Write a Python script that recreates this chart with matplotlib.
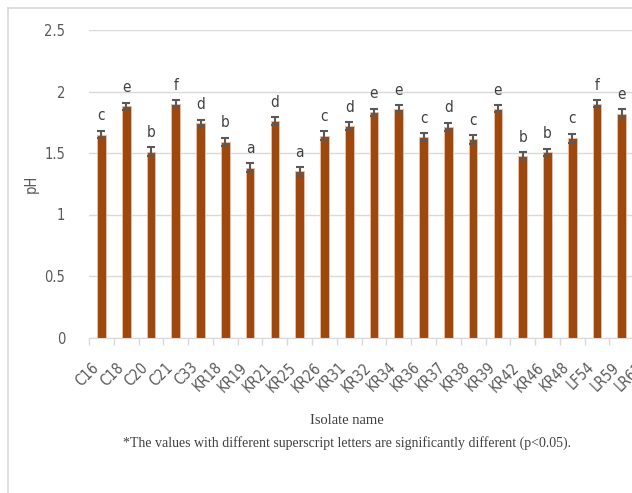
import matplotlib.pyplot as plt
from matplotlib.lines import Line2D
import numpy as np

isolates = ["C16", "C18", "C20", "C21", "C33", "KR18", "KR19", "KR21", "KR25",
            "KR26", "KR31", "KR32", "KR34", "KR36", "KR37", "KR38", "KR39",
            "KR42", "KR46", "KR48", "LF54", "LR59", "LR61"]
ph = [1.65, 1.88, 1.51, 1.90, 1.74, 1.59, 1.38, 1.76, 1.35, 1.64, 1.72,
      1.83, 1.86, 1.63, 1.71, 1.61, 1.86, 1.475, 1.505, 1.62, 1.90, 1.82, 1.80]
err = [0.03, 0.03, 0.035, 0.03, 0.03, 0.035, 0.035, 0.03, 0.035, 0.035, 0.03,
       0.03, 0.03, 0.03, 0.035, 0.035, 0.03, 0.03, 0.03, 0.035, 0.03, 0.035, 0.03]
# the last bar runs off the picture, its letter is not visible
letters = ["c", "e", "b", "f", "d", "b", "a", "d", "a", "c", "d", "e", "e",
           "c", "d", "c", "e", "b", "b", "c", "f", "e", ""]

sans = "DejaVu Sans"
serif = ["Liberation Serif", "DejaVu Serif"]
grey = "#595959"
light = "#D9D9D9"

W, H = 632, 493
fig = plt.figure(figsize=(W / 100, H / 100), dpi=100)
# plot area in pixels: left 89, right 659 (runs off the picture), top 30, bottom 337.5
ax = fig.add_axes([89 / W, (H - 337.5) / H, (659 - 89) / W, 307.5 / H])

x = np.arange(len(isolates))
ax.bar(x, ph, width=0.35, color="#9E480E", edgecolor="#E6C3AE", linewidth=0.6,
       zorder=2)
ax.errorbar(x, ph, yerr=err, fmt="none", ecolor=grey, elinewidth=1.5,
            capsize=3, capthick=1.5, zorder=3)

for xi, v, e, s in zip(x, ph, err, letters):
    ax.text(xi, v + e + 0.085, s, ha="center", va="baseline", fontsize=11,
            color="#404040", family=sans, fontstretch="condensed")

ax.set_xlim(-0.5, len(isolates) - 0.5)
ax.set_ylim(0, 2.5)
ax.set_yticks([0, 0.5, 1, 1.5, 2, 2.5])
ax.set_yticklabels(["0", "0.5", "1", "1.5", "2", "2.5"], family=sans,
                   fontstretch="condensed", fontsize=10.5, color=grey)
ax.tick_params(axis="y", length=0, pad=17)
ax.grid(axis="y", color=light, linewidth=1, zorder=0)
ax.set_axisbelow(True)

ax.set_xticks(x)
ax.set_xticklabels(isolates, rotation=45, ha="right", family=sans,
                   fontstretch="condensed", fontsize=10.5, color=grey)
ax.set_xticks(np.arange(-0.5, len(isolates), 1), minor=True)
ax.tick_params(axis="x", which="major", length=0, pad=16)
ax.tick_params(axis="x", which="minor", length=5, color=light, width=1)

for side in ["top", "right", "left"]:
    ax.spines[side].set_visible(False)
ax.spines["bottom"].set_color(light)

ax.set_ylabel("pH", family=sans, fontstretch="condensed", fontsize=10.5,
              color=grey, labelpad=4)

fig.text(347 / W, 1 - 421 / H, "Isolate name", ha="center", va="center",
         family=serif, fontsize=10.5, color="#404040")
fig.text(347 / W, 1 - 443 / H,
         "*The values with different superscript letters are significantly different (p<0.05).",
         ha="center", va="center", family=serif, fontsize=10, color="#404040")

# light frame of the chart area (only top and left edges are in the picture)
fig.add_artist(Line2D([8 / W, 8 / W], [0, 1 - 8 / H], color=light, lw=1.2,
                      transform=fig.transFigure))
fig.add_artist(Line2D([8 / W, 1], [1 - 8 / H, 1 - 8 / H], color=light, lw=1.2,
                      transform=fig.transFigure))

fig.savefig("out.png", dpi=100)
